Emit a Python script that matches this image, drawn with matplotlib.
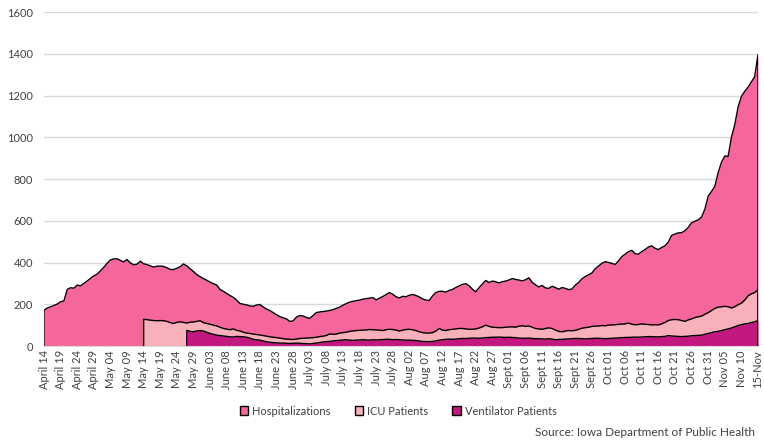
import numpy as np
import pandas as pd
import matplotlib
matplotlib.use("Agg")
import matplotlib.pyplot as plt
from matplotlib.patches import Patch

plt.rcParams["font.family"] = ["Lato", "DejaVu Sans"]

# daily values, Apr 14 -> Nov 15 2020
hospitalizations = [
    171, 182, 188, 194, 201, 212, 216, 271, 279, 277,
    292, 288, 300, 311, 324, 336, 344, 360, 377, 396,
    412, 417, 418, 410, 403, 414, 398, 389, 392, 406,
    394, 390, 384, 378, 382, 383, 381, 375, 367, 366,
    372, 380, 393, 384, 370, 357, 342, 332, 323, 315,
    306, 299, 292, 271, 262, 252, 242, 233, 220, 204,
    200, 197, 192, 190, 196, 199, 187, 177, 170, 160,
    150, 141, 135, 130, 118, 120, 138, 146, 144, 137,
    132, 146, 160, 163, 165, 167, 170, 174, 180, 186,
    195, 203, 210, 214, 217, 220, 224, 227, 229, 232,
    221, 229, 237, 246, 256, 248, 236, 230, 238, 236,
    243, 247, 242, 235, 226, 220, 218, 240, 256, 262,
    262, 258, 266, 271, 280, 288, 295, 299, 289, 272,
    260, 279, 297, 314, 304, 311, 308, 302, 308, 311,
    316, 323, 319, 316, 312, 317, 327, 305, 293, 283,
    290, 278, 276, 286, 280, 272, 280, 276, 270, 273,
    292, 304, 322, 333, 341, 350, 370, 383, 396, 404,
    400, 396, 390, 408, 428, 440, 452, 458, 442, 440,
    452, 462, 474, 480, 468, 462, 472, 480, 498, 530,
    536, 542, 543, 552, 568, 590, 598, 604, 618, 655,
    718, 740, 765, 830, 880, 910, 908, 1000, 1060, 1145,
    1195, 1220, 1240, 1265, 1290, 1396,
]
# from May 14
icu_patients = [
    128, 126, 124, 122, 121, 122, 121, 118, 112, 108,
    113, 116, 113, 110, 114, 115, 118, 121, 112, 108,
    104, 100, 96, 90, 84, 81, 78, 82, 75, 72,
    66, 62, 60, 57, 55, 53, 50, 47, 44, 42,
    40, 38, 35, 33, 32, 31, 33, 36, 37, 38,
    39, 40, 42, 45, 47, 50, 58, 56, 57, 62,
    64, 66, 70, 72, 74, 75, 76, 77, 79, 78,
    77, 76, 74, 78, 80, 79, 76, 72, 76, 79,
    80, 78, 74, 68, 64, 62, 62, 64, 72, 84,
    76, 74, 78, 80, 82, 84, 84, 82, 80, 80,
    82, 86, 92, 100, 94, 90, 89, 88, 88, 90,
    91, 92, 90, 95, 97, 94, 96, 90, 84, 82,
    80, 84, 87, 84, 76, 70, 68, 72, 74, 73,
    75, 80, 85, 88, 90, 94, 95, 96, 98, 97,
    100, 101, 102, 104, 105, 106, 110, 104, 102, 103,
    106, 104, 103, 101, 102, 101, 106, 113, 122, 126,
    127, 126, 122, 118, 125, 130, 136, 140, 143, 152,
    160, 170, 180, 186, 188, 190, 188, 182, 188, 198,
    205, 220, 240, 250, 256, 270,
]
# from May 27
ventilator_patients = [
    75, 70, 68, 72, 74, 72, 66, 60, 56, 52,
    50, 48, 46, 44, 43, 46, 45, 44, 42, 38,
    32, 30, 28, 24, 20, 18, 16, 15, 14, 14,
    13, 12, 13, 14, 13, 12, 11, 10, 12, 14,
    17, 19, 21, 22, 24, 26, 27, 29, 30, 28,
    27, 28, 29, 30, 29, 28, 30, 29, 30, 31,
    32, 32, 30, 31, 30, 29, 28, 28, 27, 26,
    24, 22, 21, 21, 22, 24, 28, 30, 32, 33,
    32, 33, 35, 36, 36, 37, 38, 38, 37, 38,
    40, 41, 42, 42, 43, 42, 41, 42, 41, 40,
    38, 37, 37, 38, 36, 35, 35, 34, 33, 35,
    33, 30, 31, 32, 33, 34, 35, 36, 36, 35,
    34, 35, 36, 37, 37, 36, 35, 36, 37, 38,
    39, 40, 41, 41, 42, 43, 42, 43, 44, 45,
    45, 44, 44, 45, 46, 50, 48, 47, 46, 45,
    46, 47, 49, 50, 51, 52, 56, 60, 64, 68,
    70, 74, 78, 82, 86, 92, 98, 102, 106, 108,
    112, 116, 122,
]
tick_labels = [
    "April 14", "April 19", "April 24", "April 29", "May 04", "May 09",
    "May 14", "May 19", "May 24", "May 29", "June 03", "June 08",
    "June 13", "June 18", "June 23", "June 28", "July 03", "July 08",
    "July 13", "July 18", "July 23", "July 28", "Aug 02", "Aug 07",
    "Aug 12", "Aug 17", "Aug 22", "Aug 27", "Sept 01", "Sept 06",
    "Sept 11", "Sept 16", "Sept 21", "Sept 26", "Oct 01", "Oct 06",
    "Oct 11", "Oct 16", "Oct 21", "Oct 26", "Oct 31", "Nov 05",
    "Nov 10", "15-Nov",
]

series = [
    ("Hospitalizations", hospitalizations, "#F5679C"),
    ("ICU Patients", icu_patients, "#F8B1BB"),
    ("Ventilator Patients", ventilator_patients, "#C2187F"),
]

n_days = len(hospitalizations)
days = np.arange(n_days)

fig = plt.figure(figsize=(7.64, 4.40), dpi=100)
ax = fig.add_axes([44 / 764, 94 / 440, 714 / 764, 334 / 440])

for name, vals, color in series:
    x = days[n_days - len(vals):]
    v = np.array(vals, dtype=float)
    ax.fill_between(x, 0, v, color=color, linewidth=0, zorder=2)
    ax.plot(np.r_[x[0], x, x[-1]], np.r_[0, v, 0], color="black", lw=1.0, zorder=3)

ax.set_xlim(0, n_days - 1)
ax.set_ylim(0, 1600)
ax.set_yticks(range(0, 1601, 200))
ax.grid(axis="y", color="#D9D9D9", lw=1.0, zorder=0)
ax.set_axisbelow(True)
for s in ["top", "right", "left"]:
    ax.spines[s].set_visible(False)
ax.spines["bottom"].set_color("#D9D9D9")
ax.set_xticks(days[::5])
ax.set_xticklabels(tick_labels, rotation=90, fontsize=8, color="#404040")
ax.tick_params(axis="both", length=0, labelsize=8, labelcolor="#404040")
ax.tick_params(axis="y", pad=8)
ax.tick_params(axis="x", pad=3)

handles = [Patch(facecolor=c, edgecolor="black", lw=1.0, label=n) for n, _, c in series]
fig.legend(handles=handles, loc="center", bbox_to_anchor=(398 / 764, 1 - 411 / 440),
           ncol=3, frameon=False, fontsize=8, handlelength=0.8, handleheight=0.8,
           handletextpad=0.3, columnspacing=2.2, labelcolor="#404040")

fig.text(755 / 764, 1 - 432 / 440, "Source: Iowa Department of Public Health",
         ha="right", va="center", fontsize=8.5, color="#404040")

fig.savefig("out.png", dpi=100)
